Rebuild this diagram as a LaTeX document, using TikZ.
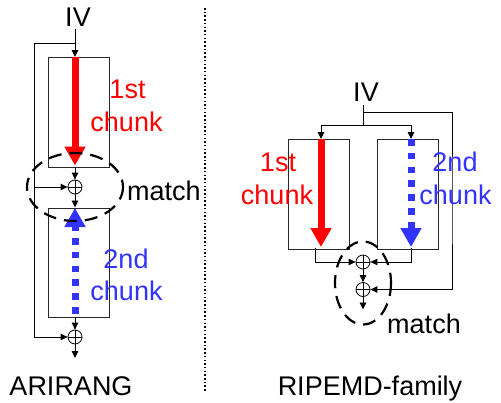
\documentclass[tikz,border=0pt]{standalone}
\usepackage{fontspec}
\setmainfont{Liberation Sans}
\usetikzlibrary{arrows.meta,calc}
\definecolor{bluechunk}{RGB}{51,51,255}
\definecolor{boxgray}{RGB}{40,40,40}
\tikzset{
  lab/.style={anchor=base,inner sep=0pt,font=\fontsize{27}{30}\selectfont},
  redlab/.style={lab,text=red},
  bluelab/.style={lab,text=bluechunk},
  chunkbox/.style={draw=boxgray,line width=1pt,fill=none,inner sep=0pt,minimum width=61pt,minimum height=109.5pt},
  xorn/.style={circle,draw,line width=0.8pt,inner sep=0pt,minimum size=14pt,
    path picture={\draw[line width=0.8pt] (path picture bounding box.north)--(path picture bounding box.south)
      (path picture bounding box.west)--(path picture bounding box.east);}},
  conn/.style={line width=0.9pt,black,-{Triangle[width=6.5pt,length=7pt]}},
  wire/.style={line width=0.9pt,black},
  bigred/.style={line width=7pt,red,-{Triangle[width=20pt,length=19pt]}},
  bigblue/.style={line width=7pt,bluechunk,dash pattern=on 6.5pt off 7.3pt,-{Triangle[width=20pt,length=19pt]}},
  matchell/.style={draw,line width=2.2pt,dash pattern=on 13pt off 8pt},
}
\begin{document}
\begin{tikzpicture}[x=1pt,y=-1pt]
\useasboundingbox (0,0) rectangle (501,402);
% divider
\coordinate (d1) at (205,8); \coordinate (d2) at (205,391);
\draw[line width=1.5pt,dash pattern=on 1.5pt off 2.2pt] (d1)--(d2);

% ARIRANG
\node[lab] (ivL) at (78,26) {IV};
\node[chunkbox,anchor=north west] (b1) at (48,57) {};
\node[chunkbox,anchor=north west] (b2) at (48,207.5) {};
\node[xorn] (x1) at (75,187) {};
\node[xorn] (x2) at (75,337) {};
\coordinate (ivLs) at (75,29);
\coordinate (ivLt) at (75,57);
\coordinate (split) at (75,43);
\coordinate (out1) at (75,358);
\draw[conn] (ivLs)--(ivLt);
\draw[wire] (split)--(34,43)--(34,337);
\draw[conn] (34,187)--(x1.west);
\draw[conn] (34,337)--(x2.west);
\draw[conn] (75,166.5)--(x1.north);
\draw[conn] (x1.south)--(75,207.5);
\draw[conn] (75,317)--(x2.north);
\draw[conn] (x2.south)--(out1);
\draw[bigred] (75,57)--(75,165.5);
\draw[bigblue] (75,313.5)--(75,208);
\draw[matchell] (75,187) ellipse [x radius=48,y radius=34];
\node[redlab] (t1) at (127.5,98) {1st};
\node[redlab] (t2) at (126.5,131) {chunk};
\node[bluelab] (t3) at (126,268) {2nd};
\node[bluelab] (t4) at (126.5,300) {chunk};
\node[lab] (mL) at (164,200) {match};
\node[lab] (nameL) at (71,395) {ARIRANG};

% RIPEMD
\node[lab] (ivR) at (366,101) {IV};
\node[chunkbox,anchor=north west] (b3) at (288,139) {};
\node[chunkbox,anchor=north west] (b4) at (376.5,139) {};
\node[xorn] (x3) at (363,262) {};
\node[xorn] (x4) at (363,289.5) {};
\coordinate (ivRs) at (363,105);
\coordinate (hub) at (363,125);
\coordinate (split2) at (363,112);
\draw[wire] (ivRs)--(hub);
\draw[conn] (hub)-|(321,139);
\draw[conn] (hub)-|(411,139);
\draw[conn] (split2)-|(452,200)|-(x4.east);
\draw[conn] (315,248)|-(x3.west);
\draw[conn] (411,248)|-(x3.east);
\draw[conn] (x3.south)--(x4.north);
\draw[conn] (x4.south)--(363,309.5);
\draw[bigred] (321,139)--(321,247);
\draw[bigblue] (411,139)--(411,247);
\draw[matchell] (363,283) ellipse [x radius=28,y radius=41.5];
\node[redlab] (t5) at (278,171) {1st};
\node[redlab] (t6) at (277,204) {chunk};
\node[bluelab] (t7) at (455,171) {2nd};
\node[bluelab] (t8) at (455.5,204) {chunk};
\node[lab] (mR) at (424,333) {match};
\node[lab] (nameR) at (370,395) {RIPEMD-family};
\end{tikzpicture}
\end{document}
